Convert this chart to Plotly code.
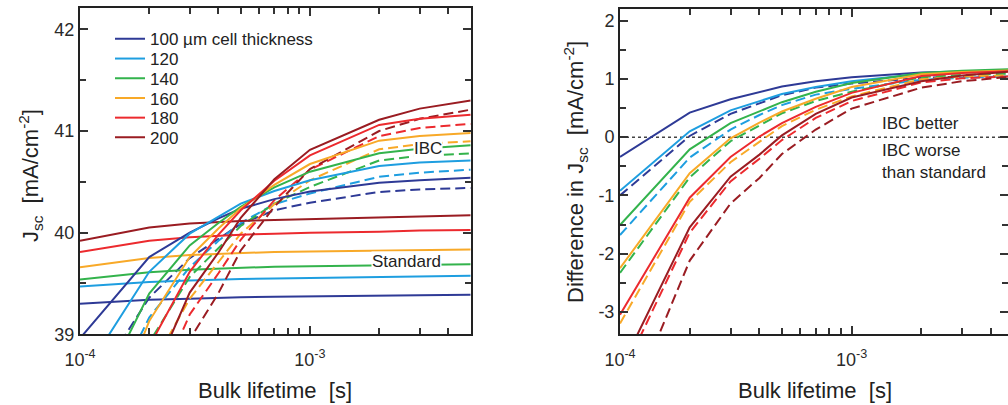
import plotly.graph_objects as go

# ---------------- data ----------------
lifetime = [1e-4, 2e-4, 3e-4, 4e-4, 5e-4, 7e-4, 1e-3, 2e-3, 3e-3, 5e-3]
thickness_labels = ["100 µm cell thickness", "120", "140", "160", "180", "200"]
colors = ["#2e3a96", "#1e9ee0", "#33b34c", "#f8a928", "#ec2a2e", "#9a1c22"]

# Left panel: standard cells (solid, nearly flat)
std_100 = [39.30, 39.34, 39.35, 39.36, 39.365, 39.37, 39.375, 39.38, 39.385, 39.39]
std_120 = [39.47, 39.515, 39.53, 39.54, 39.545, 39.55, 39.555, 39.565, 39.57, 39.575]
std_140 = [39.54, 39.61, 39.635, 39.645, 39.655, 39.665, 39.67, 39.68, 39.685, 39.69]
std_160 = [39.66, 39.75, 39.78, 39.79, 39.80, 39.81, 39.815, 39.825, 39.83, 39.835]
std_180 = [39.81, 39.92, 39.955, 39.97, 39.98, 39.99, 40.00, 40.01, 40.02, 40.025]
std_200 = [39.92, 40.05, 40.09, 40.105, 40.115, 40.125, 40.135, 40.15, 40.16, 40.17]

# Left panel: IBC cells, solid variant
ibc_a_100 = [38.96, 39.76, 40.00, 40.14, 40.235, 40.33, 40.405, 40.49, 40.515, 40.54]
ibc_a_120 = [38.55, 39.615, 39.99, 40.16, 40.285, 40.41, 40.515, 40.655, 40.69, 40.71]
ibc_a_140 = [38.03, 39.40, 39.875, 40.095, 40.255, 40.445, 40.60, 40.78, 40.825, 40.86]
ibc_a_160 = [37.41, 39.13, 39.76, 40.04, 40.24, 40.47, 40.675, 40.905, 40.95, 40.98]
ibc_a_180 = [36.76, 38.88, 39.615, 39.98, 40.22, 40.51, 40.76, 41.06, 41.12, 41.16]
ibc_a_200 = [35.92, 38.50, 39.41, 39.805, 40.145, 40.525, 40.815, 41.11, 41.22, 41.30]

# Left panel: IBC cells, dashed variant
ibc_b_100 = [38.30, 39.36, 39.75, 39.94, 40.085, 40.22, 40.295, 40.40, 40.425, 40.44]
ibc_b_120 = [37.79, 39.165, 39.66, 39.92, 40.095, 40.28, 40.385, 40.55, 40.59, 40.62]
ibc_b_140 = [37.21, 38.92, 39.565, 39.845, 40.065, 40.285, 40.45, 40.71, 40.755, 40.78]
ibc_b_160 = [36.46, 38.64, 39.35, 39.71, 39.99, 40.28, 40.515, 40.82, 40.87, 40.90]
ibc_b_180 = [35.66, 38.28, 39.195, 39.60, 39.93, 40.32, 40.62, 40.95, 41.03, 41.07]
ibc_b_200 = [34.92, 37.93, 38.95, 39.405, 39.825, 40.255, 40.625, 41.00, 41.12, 41.21]

# Right panel: difference IBC - standard (solid variant)
diff_a_100 = [-0.34, 0.42, 0.65, 0.78, 0.87, 0.96, 1.03, 1.11, 1.13, 1.15]
diff_a_120 = [-0.92, 0.10, 0.46, 0.62, 0.74, 0.86, 0.96, 1.09, 1.12, 1.135]
diff_a_140 = [-1.51, -0.21, 0.24, 0.45, 0.60, 0.78, 0.93, 1.10, 1.14, 1.17]
diff_a_160 = [-2.25, -0.62, -0.02, 0.25, 0.44, 0.66, 0.86, 1.08, 1.12, 1.145]
diff_a_180 = [-3.05, -1.04, -0.34, 0.01, 0.24, 0.52, 0.76, 1.05, 1.10, 1.135]
diff_a_200 = [-4.0, -1.55, -0.68, -0.30, 0.03, 0.40, 0.68, 0.96, 1.06, 1.13]

# Right panel: difference IBC - standard (dashed variant)
diff_b_100 = [-1.0, 0.02, 0.40, 0.58, 0.72, 0.85, 0.92, 1.02, 1.04, 1.05]
diff_b_120 = [-1.68, -0.35, 0.13, 0.38, 0.55, 0.73, 0.83, 0.985, 1.02, 1.045]
diff_b_140 = [-2.33, -0.69, -0.07, 0.20, 0.41, 0.62, 0.78, 1.03, 1.07, 1.09]
diff_b_160 = [-3.2, -1.11, -0.43, -0.08, 0.19, 0.47, 0.70, 0.995, 1.04, 1.065]
diff_b_180 = [-4.15, -1.64, -0.76, -0.37, -0.05, 0.33, 0.62, 0.94, 1.01, 1.045]
diff_b_200 = [-5.0, -2.12, -1.14, -0.70, -0.29, 0.13, 0.49, 0.85, 0.96, 1.04]

x_major_vals = [1e-4, 1e-3]
x_major_text = ["10<sup>-4</sup>", "10<sup>-3</sup>"]
x_minor_vals = [2e-4, 3e-4, 4e-4, 5e-4, 6e-4, 7e-4, 8e-4, 9e-4, 2e-3, 3e-3, 4e-3, 5e-3]
y1_tick_vals = [39, 40, 41, 42]
y1_tick_text = ["39", "40", "41", "42"]
y2_tick_vals = [-3, -2, -1, 0, 1, 2]
y2_tick_text = ["-3", "-2", "-1", "0", "1", "2"]

std_all = [std_100, std_120, std_140, std_160, std_180, std_200]
ibc_a_all = [ibc_a_100, ibc_a_120, ibc_a_140, ibc_a_160, ibc_a_180, ibc_a_200]
ibc_b_all = [ibc_b_100, ibc_b_120, ibc_b_140, ibc_b_160, ibc_b_180, ibc_b_200]
diff_a_all = [diff_a_100, diff_a_120, diff_a_140, diff_a_160, diff_a_180, diff_a_200]
diff_b_all = [diff_b_100, diff_b_120, diff_b_140, diff_b_160, diff_b_180, diff_b_200]

# ---------------- figure ----------------
FONT = "Liberation Sans, Arial, Helvetica, sans-serif"
DASH = "10px,5px"
LW = 2
W, H = 1008, 405


def px_x(p):
    return p / W


def px_y(p):
    return (H - p) / H


legend_names = ["legend", "legend2", "legend3", "legend4", "legend5", "legend6"]

fig = go.Figure()

for i in range(6):
    c = colors[i]
    fig.add_trace(go.Scatter(x=lifetime, y=std_all[i], mode="lines",
                             line=dict(color=c, width=LW), showlegend=False,
                             xaxis="x", yaxis="y"))
    fig.add_trace(go.Scatter(x=lifetime, y=ibc_b_all[i], mode="lines",
                             line=dict(color=c, width=LW, dash=DASH), showlegend=False,
                             xaxis="x", yaxis="y"))
for i in range(6):
    c = colors[i]
    fig.add_trace(go.Scatter(x=lifetime, y=ibc_a_all[i], mode="lines", name=thickness_labels[i],
                             line=dict(color=c, width=LW), showlegend=True,
                             legend=legend_names[i], xaxis="x", yaxis="y"))

for i in range(6):
    c = colors[i]
    fig.add_trace(go.Scatter(x=lifetime, y=diff_b_all[i], mode="lines",
                             line=dict(color=c, width=LW, dash=DASH), showlegend=False,
                             xaxis="x2", yaxis="y2"))
for i in range(6):
    c = colors[i]
    fig.add_trace(go.Scatter(x=lifetime, y=diff_a_all[i], mode="lines",
                             line=dict(color=c, width=LW), showlegend=False,
                             xaxis="x2", yaxis="y2"))

tickfont = dict(family=FONT, size=18, color="#2a2a2a")
minor_style = dict(ticks="inside", ticklen=6, tickwidth=1.5, tickcolor="#333333", showgrid=False)
common_axis = dict(showline=True, linecolor="#222222", linewidth=2, mirror="allticks",
                   ticks="inside", ticklen=8, tickwidth=1.5, tickcolor="#333333",
                   showgrid=False, zeroline=False, tickfont=tickfont, automargin=False)

xaxis_common = dict(common_axis, type="log", tickmode="array",
                    tickvals=x_major_vals, ticktext=x_major_text, ticklabelstandoff=8,
                    minor=dict(minor_style, tickmode="array", tickvals=x_minor_vals))

layout_legends = {}
for i, ln in enumerate(legend_names):
    layout_legends[ln] = dict(x=px_x(110), y=px_y(39.3 + 19.7 * i), xanchor="left",
                              yanchor="middle", bgcolor="rgba(255,255,255,0)", borderwidth=0,
                              font=dict(family=FONT, size=17, color="#222222"),
                              itemwidth=30)

fig.update_layout(
    width=W, height=H,
    margin=dict(l=0, r=0, t=0, b=0, autoexpand=False),
    paper_bgcolor="white", plot_bgcolor="white",
    font=dict(family=FONT, color="#222222"),
    xaxis=dict(xaxis_common, domain=[px_x(80), px_x(470.7)],
               range=[-4, -2.301], anchor="y"),
    yaxis=dict(common_axis, domain=[px_y(334.3), px_y(8)], range=[39, 42.21],
               tickmode="array", tickvals=y1_tick_vals, ticktext=y1_tick_text,
               minor=dict(minor_style, tickmode="array", tickvals=[39.5, 40.5, 41.5]),
               anchor="x"),
    xaxis2=dict(xaxis_common, domain=[px_x(620), 1.0],
                range=[-4, -2.325], anchor="y2"),
    yaxis2=dict(common_axis, domain=[px_y(334), px_y(9)], range=[-3.38, 2.2],
                tickmode="array", tickvals=y2_tick_vals, ticktext=y2_tick_text,
                minor=dict(minor_style, tickmode="array",
                           tickvals=[-2.5, -1.5, -0.5, 0.5, 1.5]),
                anchor="x2"),
    showlegend=True,
    **layout_legends,
)

# zero reference line in the right panel
fig.add_shape(type="line", xref="x2 domain", yref="y2", x0=0, x1=1, y0=0, y1=0,
              line=dict(color="#444444", width=1.5, dash="3px,3px"), layer="below")

title_font = dict(family=FONT, size=22, color="#222222")
label_font = dict(family=FONT, size=17, color="#222222")

annotations = [
    dict(text="Bulk lifetime  [s]", x=px_x(275.4), y=px_y(390), xref="paper", yref="paper",
         showarrow=False, font=title_font, xanchor="center", yanchor="middle"),
    dict(text="Bulk lifetime  [s]", x=px_x(815), y=px_y(390), xref="paper", yref="paper",
         showarrow=False, font=title_font, xanchor="center", yanchor="middle"),
    dict(text="J<sub>sc</sub>  [mA/cm<sup>-2</sup>]", x=px_x(30), y=px_y(176), xref="paper",
         yref="paper", showarrow=False, font=title_font, textangle=-90,
         xanchor="center", yanchor="middle"),
    dict(text="Difference in J<sub>sc</sub>  [mA/cm<sup>-2</sup>]", x=px_x(575), y=px_y(172),
         xref="paper", yref="paper", showarrow=False, font=title_font, textangle=-90,
         xanchor="center", yanchor="middle"),
    dict(text="IBC", x=px_x(427.5), y=px_y(148), xref="paper", yref="paper",
         showarrow=False, font=label_font, bgcolor="white", xanchor="center", yanchor="middle",
         borderpad=0),
    dict(text="Standard", x=px_x(406.7), y=px_y(261.7), xref="paper", yref="paper",
         showarrow=False, font=label_font, bgcolor="white", xanchor="center", yanchor="middle",
         borderpad=0),
    dict(text="IBC better", x=px_x(880), y=px_y(123.3), xref="paper", yref="paper",
         showarrow=False, font=label_font, xanchor="left", yanchor="middle", align="left"),
    dict(text="IBC worse<br>than standard", x=px_x(880), y=px_y(161.7), xref="paper",
         yref="paper", showarrow=False, font=label_font, xanchor="left", yanchor="middle",
         align="left"),
]
fig.update_layout(annotations=annotations)

fig.write_html("out.html", config={"displayModeBar": False},
               post_script="document.body.style.margin='0px';")
